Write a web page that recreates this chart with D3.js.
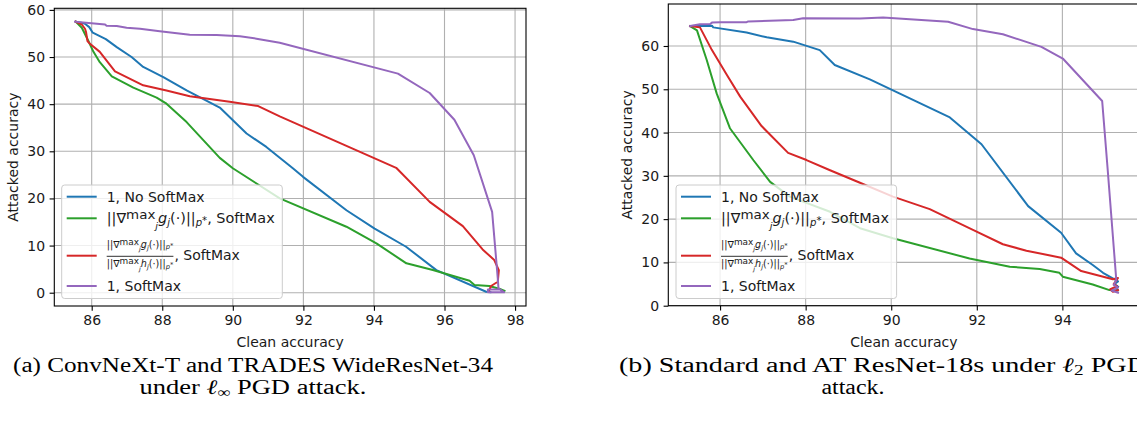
<!DOCTYPE html>
<html><head><meta charset="utf-8">
<script src="https://cdn.jsdelivr.net/npm/d3@7"></script>
<style>
html,body{margin:0;padding:0;background:#fff;}
svg{display:block;font-family:"DejaVu Sans",sans-serif;}
</style></head><body>
<svg id="c" width="1137" height="426"></svg>
<script>
// ---------- data ----------
const seriesLabels = ["1, No SoftMax", "grad_g", "ratio", "1, SoftMax"];
const seriesColors = ["#1f77b4", "#2ca02c", "#d62728", "#9467bd"];
const xTicksA = [86, 88, 90, 92, 94, 96, 98];
const yTicksA = [0, 10, 20, 30, 40, 50, 60];
const xTicksB = [86, 88, 90, 92, 94];
const yTicksB = [0, 10, 20, 30, 40, 50, 60];

// Panel (a)
const aBlueX = [85.55,85.7,85.81,85.93,86.03,86.4,86.71,87.13,87.46,88.03,88.69,89.63,90.39,90.95,91.71,91.99,93.22,94.02,94.91,95.77,97.18,97.3];
const aBlueY = [57.5,57.3,57.06,56.35,55.16,53.8,52.1,50.0,47.9,45.76,42.94,39.28,33.77,30.93,26.36,24.58,17.5,13.6,9.75,4.8,0.2,0.1];
const aGreenX = [85.55,85.72,85.9,86.05,86.23,86.57,87.18,87.84,88.12,88.69,89.63,90.0,91.33,93.22,94.07,94.92,95.67,96.71,96.85,97.27,97.6,97.7];
const aGreenY = [57.5,56.2,53.5,51.1,48.9,45.9,43.5,41.4,40.1,36.2,28.6,26.4,20.0,14.0,10.47,6.23,4.8,2.54,1.63,1.42,0.72,0.4];
const aRedX = [85.55,85.72,85.81,85.84,85.88,85.95,86.23,86.66,87.46,88.12,88.78,89.91,90.72,91.33,94.63,95.58,96.52,97.08,97.41,97.54,97.51,97.32,97.25];
const aRedY = [57.5,56.9,56.0,55.3,53.4,52.8,51.1,46.97,44.0,42.9,41.7,40.5,39.6,37.4,26.5,19.28,14.13,9.19,6.93,4.8,2.33,1.42,0.2];
const aPurpleX = [85.53,85.76,86.38,86.42,86.71,86.99,87.37,87.93,88.78,89.54,90.2,90.67,91.33,94.68,95.58,96.28,96.83,97.35,97.51,97.53,97.69,97.23,97.23,97.53];
const aPurpleY = [57.5,57.35,56.9,56.65,56.57,56.2,56.0,55.45,54.75,54.67,54.39,53.9,53.05,46.48,42.37,36.7,29.17,17.16,3.05,0.93,0.08,0.08,0.7,0.7];

// Panel (b)
const bBlueX = [85.3,85.81,85.84,86.62,87.09,87.71,88.33,88.68,89.5,91.37,92.11,93.2,93.97,94.32,94.71,94.95,95.22,95.3,95.22,95.3];
const bBlueY = [64.6,64.7,64.3,63.1,62.0,61.0,59.05,55.6,52.3,43.5,37.3,23.0,16.86,12.1,9.4,7.6,6.1,5.6,5.0,4.4];
const bGreenX = [85.3,85.46,85.69,85.92,86.23,86.78,87.17,87.63,88.57,89.27,90.04,91.83,92.77,93.47,93.93,94.01,94.71,95.1,95.3,95.25];
const bGreenY = [64.6,63.6,56.7,49.05,41.0,33.6,28.6,25.2,21.7,17.9,15.6,10.9,9.0,8.5,7.6,6.7,4.9,3.6,3.5,4.2];
const bRedX = [85.3,85.53,85.81,86.16,86.47,86.97,87.59,88.02,88.57,89.27,90.04,90.9,91.91,92.61,93.16,93.97,94.44,95.18,95.3,95.2,95.28,95.12,95.18,95.3];
const bRedY = [64.6,64.3,59.05,53.3,48.3,41.5,35.3,33.65,31.3,28.4,25.2,22.3,17.5,14.2,12.7,11.1,8.0,6.1,6.4,5.0,4.5,3.8,3.2,3.6];
const bPurpleX = [85.3,85.53,85.77,85.81,86.0,86.62,86.66,87.71,87.94,89.27,89.81,91.33,91.91,92.61,93.51,94.01,94.93,95.06,95.26,95.2,95.3,95.15,95.3];
const bPurpleY = [64.6,65.0,65.08,65.4,65.5,65.5,65.68,66.0,66.4,66.35,66.6,65.6,63.9,62.7,59.8,57.1,47.3,31.3,5.9,4.8,4.2,3.5,3.0];

const xLabel = "Clean accuracy";
const yLabel = "Attacked accuracy";

// ---------- drawing ----------
const svg = d3.select("#c");
const FS = 14;

function zip(xs, ys) { return xs.map((x, i) => [x, ys[i]]); }

function panel(id, cfg, series, xTicks, yTicks) {
  const x = d3.scaleLinear().domain(cfg.xDom).range([cfg.left, cfg.right]);
  const y = d3.scaleLinear().domain(cfg.yDom).range([cfg.bottom, cfg.top]);
  const g = svg.append("g");
  g.append("clipPath").attr("id", "clip" + id).append("rect")
    .attr("x", cfg.left).attr("y", cfg.top)
    .attr("width", cfg.right - cfg.left).attr("height", cfg.bottom - cfg.top);
  // grid
  g.append("g").selectAll("line").data(xTicks).join("line")
    .attr("x1", d => x(d)).attr("x2", d => x(d))
    .attr("y1", cfg.top).attr("y2", cfg.bottom)
    .attr("stroke", "#b0b0b0").attr("stroke-width", 1.1);
  g.append("g").selectAll("line").data(yTicks).join("line")
    .attr("y1", d => y(d)).attr("y2", d => y(d))
    .attr("x1", cfg.left).attr("x2", cfg.right)
    .attr("stroke", "#b0b0b0").attr("stroke-width", 1.1);
  // lines
  const line = d3.line().x(d => x(d[0])).y(d => y(d[1]));
  const lg = g.append("g").attr("clip-path", `url(#clip${id})`);
  series.forEach((s, i) => {
    lg.append("path").attr("d", line(s)).attr("fill", "none")
      .attr("stroke", seriesColors[i]).attr("stroke-width", 2)
      .attr("stroke-linejoin", "round").attr("stroke-linecap", "square");
  });
  // axes
  const ax = g.append("g").attr("transform", `translate(0,${cfg.bottom})`)
    .call(d3.axisBottom(x).tickValues(xTicks).tickSize(4.7).tickPadding(4.5).tickFormat(d3.format("d")));
  const ay = g.append("g").attr("transform", `translate(${cfg.left},0)`)
    .call(d3.axisLeft(y).tickValues(yTicks).tickSize(4.7).tickPadding(4.5).tickFormat(d3.format("d")));
  [ax, ay].forEach(a => {
    a.select(".domain").remove();
    a.attr("font-size", FS).attr("font-family", "DejaVu Sans");
    a.selectAll("line").attr("stroke", "#000").attr("stroke-width", 1.1);
    a.selectAll("text").attr("fill", "#1a1a1a");
  });
  // frame
  g.append("rect").attr("x", cfg.left).attr("y", cfg.top)
    .attr("width", cfg.right - cfg.left).attr("height", cfg.bottom - cfg.top)
    .attr("fill", "none").attr("stroke", "#000").attr("stroke-width", 1.1);
  // labels
  g.append("text").attr("x", (cfg.left + cfg.right) / 2).attr("y", cfg.xLabelY)
    .attr("text-anchor", "middle").attr("font-size", FS).attr("fill", "#1a1a1a").text(xLabel);
  g.append("text").attr("transform", `translate(${cfg.yLabelX},${(cfg.top + cfg.bottom) / 2}) rotate(-90)`)
    .attr("text-anchor", "middle").attr("font-size", FS).attr("fill", "#1a1a1a").text(yLabel);
  legend(g, cfg.legX, cfg.legY);
}

function mathText(g, x, yb, s, letter) {
  const t = g.append("text").attr("x", x).attr("y", yb).attr("font-size", s).attr("fill", "#1a1a1a");
  const parts = [
    { t: "||∇", k: 1, o: 0 },
    { t: "max", k: 0.93, o: -0.3 },
    { t: "j", k: 0.68, o: 0.38, it: true },
    { t: letter, k: 1, o: 0, it: true },
    { t: "j", k: 0.7, o: 0.22, it: true },
    { t: "(·)||", k: 1, o: 0 },
    { t: "p", k: 0.7, o: 0.2, it: true },
    { t: "*", k: 0.7, o: 0.05 }
  ];
  parts.forEach(p => {
    const ts = t.append("tspan").attr("y", yb + p.o * s).attr("font-size", p.k * s).text(p.t);
    if (p.it) ts.attr("font-style", "italic");
  });
  return t;
}

function legend(g, x0, y0) {
  const w = 220.6, h = 113.5;
  const lg = g.append("g");
  lg.append("rect").attr("x", x0).attr("y", y0).attr("width", w).attr("height", h)
    .attr("rx", 3).attr("fill", "#fff").attr("fill-opacity", 0.8)
    .attr("stroke", "#cccccc").attr("stroke-width", 1);
  const rows = [11.7, 33.3, 70.7, 101];
  rows.forEach((r, i) => {
    lg.append("line").attr("x1", x0 + 5).attr("x2", x0 + 35)
      .attr("y1", y0 + r).attr("y2", y0 + r)
      .attr("stroke", seriesColors[i]).attr("stroke-width", 2);
  });
  const tx = x0 + 45;
  lg.append("text").attr("x", tx).attr("y", y0 + rows[0] + 5).attr("font-size", FS).attr("fill", "#1a1a1a").text(seriesLabels[0]);
  const m2 = mathText(lg, tx, y0 + 38.3, FS, "g");
  m2.append("tspan").attr("y", y0 + 38.3).attr("font-size", FS).text(", SoftMax");
  m2.attr("textLength", 168).attr("lengthAdjust", "spacingAndGlyphs");
  // fraction
  const num = mathText(lg, tx, y0 + 62.5, 9.6, "g");
  const den = mathText(lg, tx, y0 + 82, 9.6, "h");
  const nw = num.node().getComputedTextLength();
  const dw = den.node().getComputedTextLength();
  const fw = Math.max(nw, dw);
  num.attr("x", tx + (fw - nw) / 2);
  den.attr("x", tx + (fw - dw) / 2);
  lg.append("line").attr("x1", tx).attr("x2", tx + fw)
    .attr("y1", y0 + 71.3).attr("y2", y0 + 71.3).attr("stroke", "#1a1a1a").attr("stroke-width", 0.9);
  lg.append("text").attr("x", tx + fw + 1).attr("y", y0 + 75).attr("font-size", FS).attr("fill", "#1a1a1a").text(", SoftMax");
  lg.append("text").attr("x", tx).attr("y", y0 + rows[3] + 5).attr("font-size", FS).attr("fill", "#1a1a1a").text(seriesLabels[3]);
}

panel("a", {
  left: 54.3, right: 526, top: 8.3, bottom: 306,
  xDom: [84.94, 98.31], yDom: [-2.82, 60.34],
  xLabelY: 347, yLabelX: 18, legX: 61.7, legY: 185
}, [zip(aBlueX, aBlueY), zip(aGreenX, aGreenY), zip(aRedX, aRedY), zip(aPurpleX, aPurpleY)], xTicksA, yTicksA);

panel("b", {
  left: 668.3, right: 1139.4, top: 4, bottom: 305.7,
  xDom: [84.79, 95.8], yDom: [0, 69.7],
  xLabelY: 347, yLabelX: 632, legX: 676, legY: 185
}, [zip(bBlueX, bBlueY), zip(bGreenX, bGreenY), zip(bRedX, bRedY), zip(bPurpleX, bPurpleY)], xTicksB, yTicksB);

// captions
const serif = "'Liberation Serif', 'DejaVu Serif', serif";
function cap(x, y, anchor, pieces, len) {
  const t = svg.append("text").attr("x", x).attr("y", y).attr("text-anchor", anchor)
    .style("font-family", serif).attr("font-size", 20.5).attr("fill", "#000");
  pieces.forEach(p => {
    const ts = t.append("tspan").text(p.t);
    if (p.sub) ts.attr("font-size", 14).attr("dy", 3);
    if (p.back) ts.attr("dy", -3);
    if (p.it) ts.style("font-style", "italic");
  });
  if (len) t.attr("textLength", len).attr("lengthAdjust", "spacingAndGlyphs");
  return t;
}
cap(253, 372, "middle", [{ t: "(a) ConvNeXt-T and TRADES WideResNet-34" }], 480);
cap(253, 393.5, "middle", [{ t: "under " }, { t: "ℓ", it: true }, { t: "∞", sub: true }, { t: " PGD attack.", back: true }], 227);
cap(619, 372, "start", [{ t: "(b) Standard and AT ResNet-18s under " }, { t: "ℓ", it: true }, { t: "2", sub: true }, { t: " PGD", back: true }], 528);
cap(853, 393.5, "middle", [{ t: "attack." }], 63);
</script>
</body></html>
